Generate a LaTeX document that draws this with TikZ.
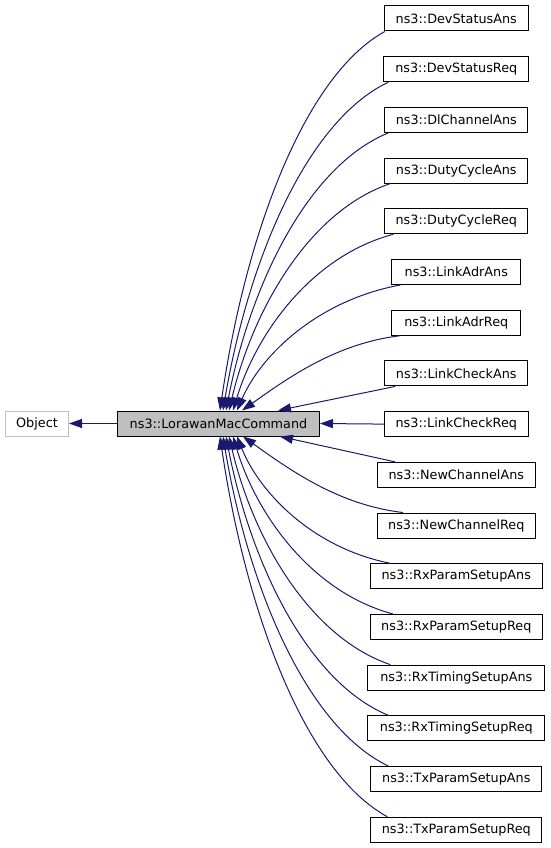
\documentclass[tikz,border=0pt]{standalone}
\usepackage{fontspec}
\setmainfont{DejaVu Sans}
\usetikzlibrary{arrows.meta,calc}
\definecolor{edgeblue}{HTML}{191970}
\definecolor{boxgray}{HTML}{BFBFBF}
\begin{document}
\begin{tikzpicture}[x=1pt,y=-1pt,
  font=\fontsize{12.8}{15}\selectfont,
  box/.style={draw=black, line width=1pt, minimum height=25pt, inner sep=0pt, fill=white},
  edge/.style={draw=edgeblue, line width=1pt, -{Triangle[length=13pt,width=9pt]}}]
\useasboundingbox (0,0) rectangle (551,848);

\node[box, draw=boxgray, minimum width=63] (obj) at (37,423.5) {Object};
\node[box, fill=boxgray, minimum width=202] (lmc) at (218.5,423.5) {ns3::LorawanMacCommand};

\foreach \i/\w/\t in {1/144/DevStatusAns, 2/145/DevStatusReq, 3/143/DlChannelAns,
  4/143/DutyCycleAns, 5/143/DutyCycleReq, 6/129/LinkAdrAns, 7/129/LinkAdrReq,
  8/143/LinkCheckAns, 9/144/LinkCheckReq, 10/158/NewChannelAns, 11/158/NewChannelReq,
  12/172/RxParamSetupAns, 13/172/RxParamSetupReq, 14/177/RxTimingSetupAns,
  15/177/RxTimingSetupReq, 16/171/TxParamSetupAns, 17/171/TxParamSetupReq}
  \node[box, minimum width=\w] (n\i) at (456.3,{18.5+50.7*(\i-1)}) {ns3::\t};

\draw[edge] (lmc.west) -- (obj.east);
\draw[edge] (n9.west) -- (lmc.east);

% top edges: index / tip offset / end offset / a / b / c / d
\foreach \i/\tx/\ex/\a/\b/\c/\d in {1/103/1/0.15/0.45/0.5/0.12, 2/106/5/0.15/0.45/0.5/0.12,
  3/109/4/0.15/0.45/0.5/0.12, 4/112/6/0.15/0.45/0.5/0.12, 5/116/9/0.15/0.45/0.5/0.12,
  6/120/9/0.15/0.45/0.5/0.12, 7/125/9/0.3/0.45/0.4/0.1, 8/161/11/0.33/0.33/0.33/0.33} {
  \coordinate (T) at ([xshift=\tx]lmc.north west);
  \coordinate (E) at ([xshift=\ex]n\i.south west);
  \coordinate (A) at ($(T)!\a!(E)$);
  \coordinate (B) at ($(T)!\b!(E)$);
  \coordinate (C) at ($(E)!\c!(T)$);
  \coordinate (D) at ($(E)!\d!(T)$);
  \draw[edge] (E) .. controls (C |- D) and (A |- B) .. (T);
}
% bottom edges
\foreach \i/\tx/\ex/\a/\b/\c/\d in {10/163/18/0.33/0.33/0.33/0.33, 11/126/26/0.3/0.45/0.4/0.1,
  12/120/20/0.15/0.45/0.5/0.12, 13/116/23/0.15/0.45/0.5/0.12, 14/112/23/0.15/0.45/0.5/0.12,
  15/109/21/0.15/0.45/0.5/0.12, 16/106/18/0.15/0.45/0.5/0.12, 17/103/17/0.15/0.45/0.5/0.12} {
  \coordinate (T) at ([xshift=\tx]lmc.south west);
  \coordinate (E) at ([xshift=\ex]n\i.north west);
  \coordinate (A) at ($(T)!\a!(E)$);
  \coordinate (B) at ($(T)!\b!(E)$);
  \coordinate (C) at ($(E)!\c!(T)$);
  \coordinate (D) at ($(E)!\d!(T)$);
  \draw[edge] (E) .. controls (C |- D) and (A |- B) .. (T);
}
\end{tikzpicture}
\end{document}
